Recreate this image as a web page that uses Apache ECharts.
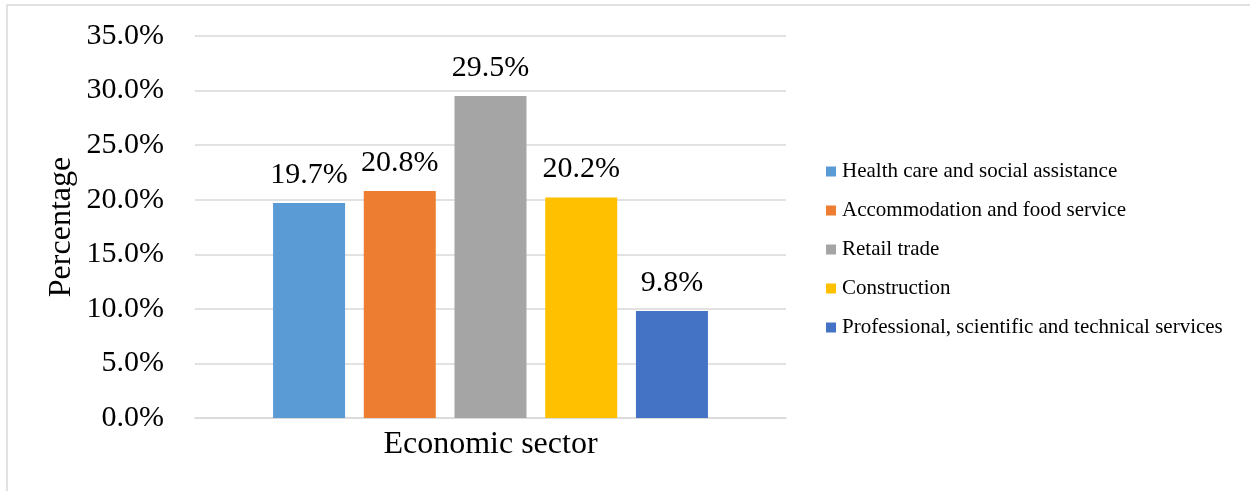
<!DOCTYPE html>
<html>
<head>
<meta charset="utf-8">
<script src="https://cdn.jsdelivr.net/npm/echarts@6/dist/echarts.min.js"></script>
<style>html,body{margin:0;padding:0;background:#fff}#c{width:1250px;height:491px}</style>
</head>
<body>
<div id="c"></div>
<script>
const categories = ['Economic sector'];
const seriesNames = ['Health care and social assistance','Accommodation and food service','Retail trade','Construction','Professional, scientific and technical services'];
const seriesValues = [19.7, 20.8, 29.5, 20.2, 9.8];
const colors = ['#5B9BD5','#ED7D31','#A5A5A5','#FFC000','#4472C4'];
const yTicks = [0,5,10,15,20,25,30,35];

const FONT = '"Liberation Serif","Times New Roman",serif';
const chart = echarts.init(document.getElementById('c'), null, {renderer:'canvas'});
chart.setOption({
  animation:false,
  backgroundColor:'#fff',
  graphic:[{type:'rect',shape:{x:7,y:5,width:1400,height:700},style:{fill:'none',stroke:'#d9d9d9',lineWidth:1.5},silent:true,z:-1}],
  grid:{left:195,right:464,top:36,bottom:73},
  legend:{
    orient:'vertical',left:821,top:156,itemWidth:10,itemHeight:10,itemGap:18,
    icon:'rect',
    textStyle:{fontFamily:FONT,fontSize:21,color:'#000',padding:[0,0,0,1]},
    data:seriesNames
  },
  xAxis:{
    type:'category',data:categories,
    axisLine:{show:true,lineStyle:{color:'#d9d9d9',width:1.5}},
    axisTick:{show:false},
    axisLabel:{fontFamily:FONT,fontSize:32,color:'#000',margin:11}
  },
  yAxis:{
    type:'value',min:0,max:35,interval:5,
    name:'Percentage',nameLocation:'middle',nameRotate:90,nameGap:117,
    nameTextStyle:{fontFamily:FONT,fontSize:32,color:'#000'},
    axisLine:{show:false},axisTick:{show:false},
    splitLine:{lineStyle:{color:'#d9d9d9',width:1.5}},
    axisLabel:{fontFamily:FONT,fontSize:30,color:'#000',margin:31,
      formatter:v=>yTicks.indexOf(v)>=0?v.toFixed(1)+'%':''}
  },
  series:seriesNames.map((n,i)=>({
    name:n,type:'bar',barWidth:72,barGap:'26%',
    itemStyle:{color:colors[i]},
    data:[seriesValues[i]],
    label:{show:true,position:'top',distance:13,fontFamily:FONT,fontSize:30,color:'#000',
      formatter:p=>p.value.toFixed(1)+'%'}
  }))
});
</script>
</body>
</html>
